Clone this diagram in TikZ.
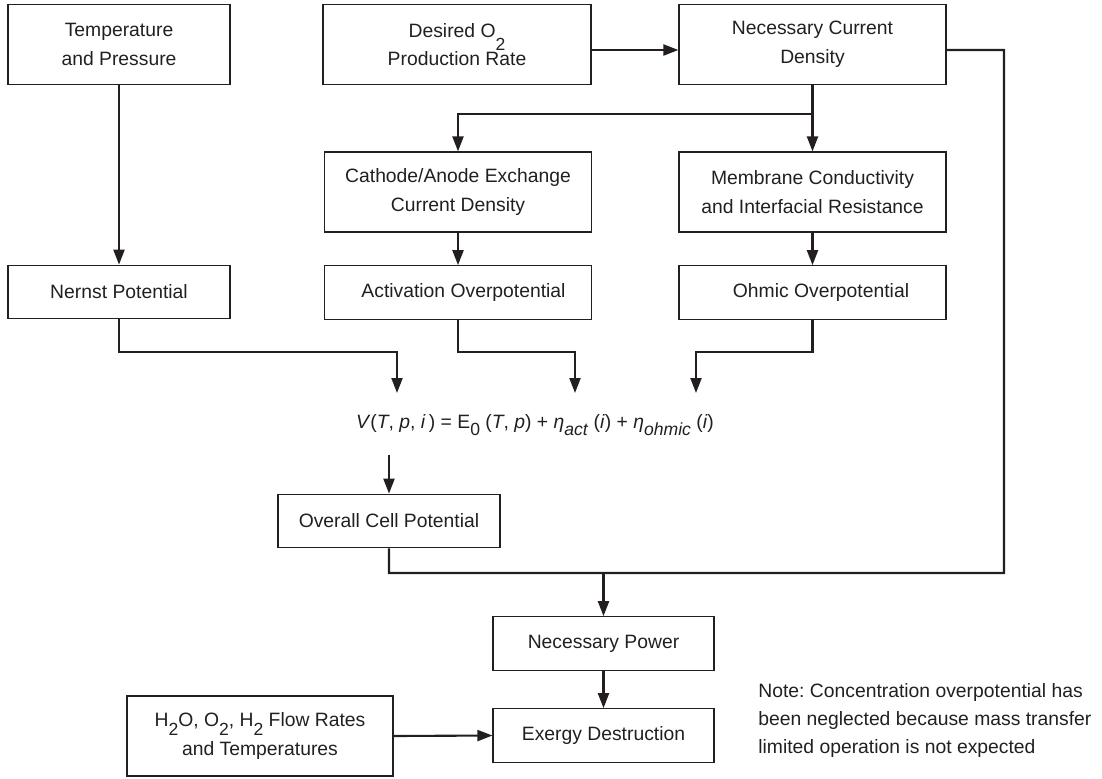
\documentclass[tikz,border=0pt]{standalone}
\usepackage{fontspec}
\setmainfont{Liberation Sans}
\usetikzlibrary{arrows.meta,calc}
\definecolor{ink}{RGB}{35,31,32}
% lowered, nearly full-size subscript that does not disturb line spacing
\newcommand{\lowsub}[2][0.45em]{\smash{\raisebox{-#1}{\fontsize{10}{10}\selectfont #2}}}

\begin{document}
\frenchspacing
\begin{tikzpicture}[x=0.02cm, y=-0.02cm,
  box/.style={draw=ink, line width=0.7pt, inner sep=0pt, align=center, text=ink,
    font=\fontsize{11}{16.4}\selectfont},
  tall/.style={box, minimum height=1.6cm},
  flat/.style={box, minimum height=1.07cm},
  link/.style={draw=ink, line width=1.2pt},
  flow/.style={link, -{Triangle[length=0.3cm,width=0.22cm]}},
  plain/.style={inner sep=0pt, text=ink, font=\fontsize{11}{15.9}\selectfont},
]
\useasboundingbox (0,0) rectangle (1102,778);

% top row
\node[tall, minimum width=4.44cm] (temp) at (119,44.5) {Temperature\\and Pressure};
\node[tall, minimum width=5.36cm] (desired) at (457,44.5)
  {Desired O\lowsub[0.7em]{2}\\Production Rate};
\node[tall, minimum width=5.34cm] (ncd) at (812.5,44.5) {Necessary Current\\Density};

% second row
\node[tall, minimum width=5.34cm] (cathode) at (458,192) {Cathode/Anode Exchange\\Current Density};
\node[tall, minimum width=5.34cm] (membrane) at (812.5,192) {Membrane Conductivity\\and Interfacial Resistance};

% third row
\node[flat, minimum width=4.44cm] (nernst) at (119,292) {Nernst Potential};
\node[flat, minimum width=5.34cm] (activation) at (458,292.5) {\hspace*{0.22cm}Activation Overpotential};
\node[flat, minimum width=5.34cm] (ohmic) at (812.5,292.5) {\hspace*{0.34cm}Ohmic Overpotential};

% cell potential equation
\node[plain, anchor=base] (eq) at (535,428)
  {\textit{V}(\textit{T}, \textit{p}, \textit{i}\,) = E\lowsub[0.4em]{0} (\textit{T}, \textit{p}) + \textit{η}\lowsub[0.4em]{\textit{act}} (\textit{i}) + \textit{η}\lowsub[0.4em]{\textit{ohmic}} (\textit{i})};

% lower part
\node[flat, minimum width=4.44cm] (overall) at (389,521) {Overall Cell Potential};
\node[flat, minimum width=4.42cm] (power) at (603.5,643.5) {Necessary Power};
\node[flat, minimum width=4.42cm] (exergy) at (603.5,735.5) {Exergy Destruction};
\node[tall, minimum width=5.32cm] (flows) at (260,736)
  {H\lowsub{2}O, O\lowsub{2}, H\lowsub{2} Flow Rates\\and Temperatures};
\node[plain, anchor=north west, align=left] (note) at (758,683)
  {Note: Concentration overpotential has\\been neglected because mass transfer\\limited operation is not expected};

% junction and routing points
\coordinate (split) at (812.5,114);
\coordinate (rtop) at (1004,50);
\coordinate (rbot) at (1004,573);
\coordinate (merge) at (603.5,573);
\coordinate (busE) at (397,352);
\coordinate (busA) at (575,352);
\coordinate (busO) at (696,352);
\coordinate (inE) at (397,393);
\coordinate (inA) at (575,393);
\coordinate (inO) at (696,393);
\coordinate (eqout) at (389,455);

% connectors
\draw[flow] ($(desired.east)+(0,5.5)$) -- ($(ncd.west)+(0,5.5)$);
\draw[link] ($(ncd.east)+(0,5.5)$) -- (rtop) -- (rbot) -- (overall.south |- rbot) -- (overall.south);
\draw[flow] (merge) -- (power.north);
\draw[link] (ncd.south) -- (split);
\draw[flow] (split) -- (membrane.north);
\draw[flow] (split) -| (cathode.north);
\draw[flow] (temp.south) -- (nernst.north);
\draw[flow] (cathode.south) -- (activation.north);
\draw[flow] (membrane.south) -- (ohmic.north);
\draw[flow] (nernst.south) |- (busE) -- (inE);
\draw[flow] (activation.south) |- (busA) -- (inA);
\draw[flow] (ohmic.south) |- (busO) -- (inO);
\draw[flow] (eqout) -- (overall.north);
\draw[flow] (power.south) -- (exergy.north);
\draw[flow] (flows.east) -- (exergy.west);
\end{tikzpicture}
\end{document}
